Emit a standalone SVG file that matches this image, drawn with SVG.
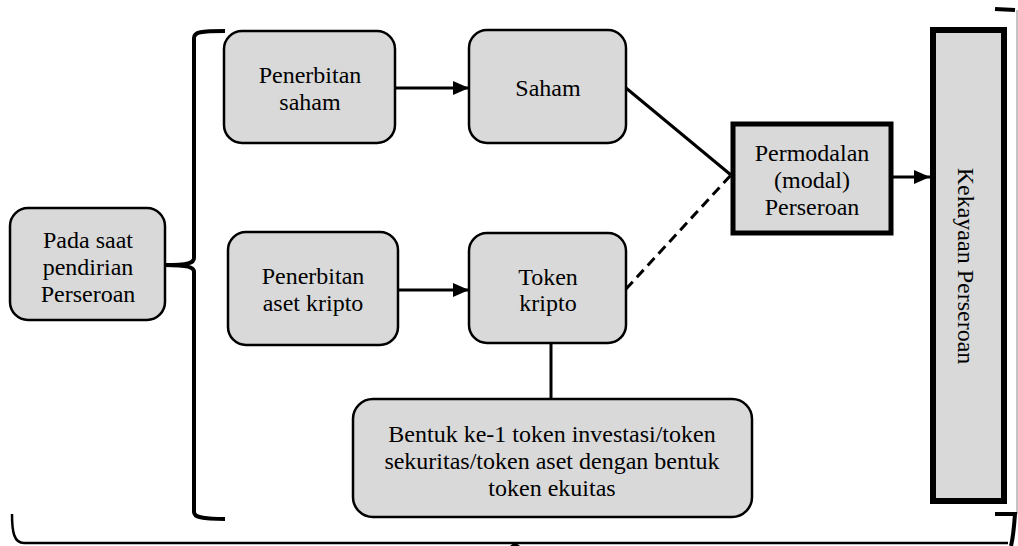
<svg xmlns="http://www.w3.org/2000/svg" width="1018" height="546" viewBox="0 0 1018 546">
  <style>
    .box { fill: #d9d9d9; stroke: #000; stroke-width: 2.5; }
    .bold { fill: #d9d9d9; stroke: #000; }
    .lbl { font-family: "Liberation Serif", "Times New Roman", serif; font-size: 24px; fill: #000; text-anchor: middle; }
    .line { fill: none; stroke: #000; stroke-width: 3; }
    .brace { fill: none; stroke: #000; stroke-width: 4; }
  </style>
  <defs>
    <marker id="arrow" markerUnits="userSpaceOnUse" markerWidth="16" markerHeight="14" refX="16" refY="7" orient="auto">
      <path d="M0,0 L16,7 L0,14 Z" fill="#000"/>
    </marker>
  </defs>
  <rect width="1018" height="546" fill="#fff"/>

  <!-- braces -->
  <g id="braces">
    <path class="brace" d="M225,31 C201,31 194,32 194,38 L194,258 C194,263 188,265 165,265 C188,265 194,267 194,272 L194,512 C194,517 201,519 225,519"/>
    <path class="brace" d="M995,9 L1015,10"/>
    <line x1="1017" y1="10" x2="1017" y2="514" stroke="#888" stroke-width="1"/>
    <path class="brace" d="M995,514 L1015,514 C1014,528 1013,538 1011,546"/>
    <path d="M12,514 C12,532 14,543 24,543 L1008,543" fill="none" stroke="#000" stroke-width="2.5"/>
    <path d="M510,546 L515,542 L520,546" fill="#000"/>
  </g>

  <!-- connectors -->
  <g id="connectors">
    <line class="line" x1="395" y1="88" x2="469" y2="88" marker-end="url(#arrow)"/>
    <line class="line" x1="398" y1="290" x2="469" y2="290" marker-end="url(#arrow)"/>
    <line class="line" x1="626" y1="88" x2="731" y2="175"/>
    <line class="line" x1="626" y1="289" x2="731" y2="175" stroke-dasharray="10,6"/>
    <line class="line" x1="893" y1="177" x2="930" y2="177" marker-end="url(#arrow)"/>
    <line class="line" x1="551" y1="343" x2="551" y2="399"/>
  </g>

  <g id="pada-saat">
    <rect class="box" x="10" y="208" width="155" height="112" rx="18"/>
    <text class="lbl" x="88" y="248">Pada saat</text>
    <text class="lbl" x="88" y="275">pendirian</text>
    <text class="lbl" x="88" y="302">Perseroan</text>
  </g>

  <g id="penerbitan-saham">
    <rect class="box" x="224" y="31" width="171" height="112" rx="18"/>
    <text class="lbl" x="310" y="83">Penerbitan</text>
    <text class="lbl" x="310" y="110">saham</text>
  </g>

  <g id="saham">
    <rect class="box" x="469" y="30" width="157" height="113" rx="18"/>
    <text class="lbl" x="548" y="96">Saham</text>
  </g>

  <g id="penerbitan-aset">
    <rect class="box" x="228" y="232" width="170" height="113" rx="18"/>
    <text class="lbl" x="313" y="284">Penerbitan</text>
    <text class="lbl" x="313" y="311">aset kripto</text>
  </g>

  <g id="token-kripto">
    <rect class="box" x="469" y="233" width="157" height="110" rx="18"/>
    <text class="lbl" x="548" y="285">Token</text>
    <text class="lbl" x="548" y="311">kripto</text>
  </g>

  <g id="permodalan">
    <rect class="bold" x="733" y="124" width="158" height="109" stroke-width="5"/>
    <text class="lbl" x="812" y="161">Permodalan</text>
    <text class="lbl" x="812" y="188">(modal)</text>
    <text class="lbl" x="812" y="215">Perseroan</text>
  </g>

  <g id="kekayaan">
    <rect class="bold" x="933" y="30" width="71" height="471" stroke-width="6"/>
    <text class="lbl" transform="translate(958,266) rotate(90)">Kekayaan Perseroan</text>
  </g>

  <g id="bentuk">
    <rect class="box" x="353" y="399" width="399" height="118" rx="20"/>
    <text class="lbl" x="552" y="442">Bentuk ke-1 token investasi/token</text>
    <text class="lbl" x="552" y="469">sekuritas/token aset dengan bentuk</text>
    <text class="lbl" x="552" y="496">token ekuitas</text>
  </g>
</svg>
